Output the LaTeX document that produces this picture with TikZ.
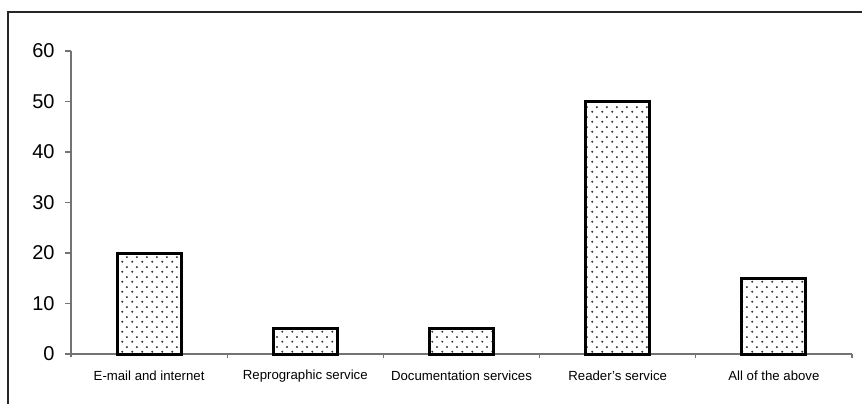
\documentclass[tikz,border=0pt]{standalone}
\usepackage{fontspec}
\setmainfont{Liberation Sans}
\usetikzlibrary{patterns.meta}

\pgfdeclarepattern{
  name=sparsedots,
  type=uncolored,
  bottom left={\pgfpoint{0pt}{0pt}},
  top right={\pgfpoint{5pt}{5pt}},
  tile size={\pgfpoint{5pt}{5pt}},
  code={
    \pgfpathcircle{\pgfpoint{1.25pt}{1.25pt}}{0.6pt}
    \pgfpathcircle{\pgfpoint{3.75pt}{3.75pt}}{0.6pt}
    \pgfusepath{fill}
  }
}

\begin{document}
\begin{tikzpicture}[x=0.5pt,y=0.5pt,
    bar/.style={draw=black,line width=1.5pt,pattern=sparsedots,pattern color=black!80},
    axisline/.style={draw=black!55,line width=0.6pt},
    ticklabel/.style={anchor=east,inner sep=0pt,font=\fontsize{10}{12}\selectfont},
    catlabel/.style={inner sep=0pt,font=\fontsize{6.6}{8}\selectfont}]
  \useasboundingbox (0,0) rectangle (862,403);
  \draw[line width=0.8pt,black!85] (8,-10) -- (8,391.3) -- (872,391.3);

  \draw[axisline] (71,{49+5.05*60}) -- (71,46);
  \draw[axisline] (71,49) -- (852,49);
  \foreach \t in {0,10,...,60} {
    \draw[axisline] (65,{49+5.05*\t}) -- (71,{49+5.05*\t});
    \node[ticklabel] (y\t) at (55,{49+5.05*\t}) {\t};
  }
  \foreach \k in {1,...,5}
    \draw[axisline] ({71+156.2*\k},49) -- ({71+156.2*\k},45);

  \foreach \v [count=\i] in {20,5,5,50,15}
    \draw[bar] ({71+156.2*(\i-0.5)-32},49) rectangle ({71+156.2*(\i-0.5)+32},{49+5.05*\v});

  \foreach \lab [count=\i] in {E-mail and internet,Reprographic service,Documentation services,Reader’s service,All of the above}
    \node[catlabel] (cat\i) at ({71+156.2*(\i-0.5)},27) {\lab};
\end{tikzpicture}
\end{document}
